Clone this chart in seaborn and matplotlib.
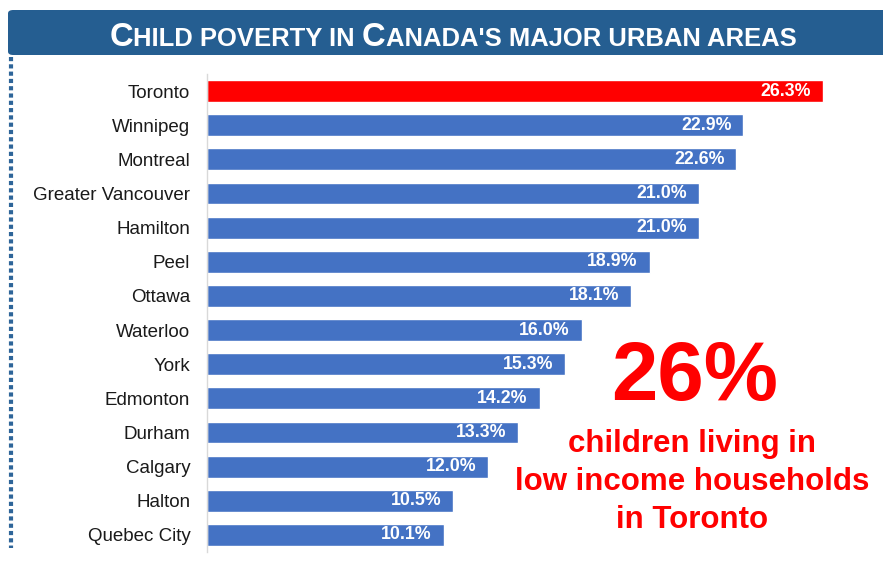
import matplotlib
matplotlib.use("Agg")
import matplotlib.pyplot as plt
import seaborn as sns
import pandas as pd
from matplotlib.patches import FancyBboxPatch
from matplotlib.lines import Line2D

cities = ["Toronto", "Winnipeg", "Montreal", "Greater Vancouver", "Hamilton", "Peel",
          "Ottawa", "Waterloo", "York", "Edmonton", "Durham", "Calgary", "Halton",
          "Quebec City"]
values = [26.3, 22.9, 22.6, 21.0, 21.0, 18.9, 18.1, 16.0, 15.3, 14.2, 13.3, 12.0, 10.5, 10.1]
highlight = "Toronto"

sns.set_theme(style="white")
plt.rcParams["font.family"] = ["Liberation Sans", "DejaVu Sans"]

BLUE = "#4472C4"
RED = "#FF0000"
palette = {c: (RED if c == highlight else BLUE) for c in cities}
df = pd.DataFrame({"city": cities, "value": values})

W, H = 883, 565
fig = plt.figure(figsize=(W / 100, H / 100), dpi=100)
ax = fig.add_axes([207 / W, 1 - 552 / H, (W - 207) / W, (552 - 74) / H])

sns.barplot(data=df, x="value", y="city", hue="city", palette=palette,
            legend=False, width=0.64, ax=ax, saturation=1)
ax.set_xlim(0, (W - 207) / 23.42)
ax.set_ylim(13.5, -0.5)
ax.set_xlabel("")
ax.set_ylabel("")
ax.set_xticks([])
for s in ["top", "right", "bottom"]:
    ax.spines[s].set_visible(False)
ax.spines["left"].set_color("#D9D9D9")
ax.spines["left"].set_linewidth(1)
ax.tick_params(axis="y", length=0, pad=12, labelsize=13.5, labelcolor="#1a1a1a")

for i, v in enumerate(values):
    ax.annotate(f"{v:.1f}%", xy=(v, i), xytext=(-8.5, 0), textcoords="offset points",
                ha="right", va="center", color="white", fontsize=12.8, fontweight="bold")

# Title banner
banner = FancyBboxPatch((8 / W, 1 - 55 / H), (W + 20 - 8) / W, 45 / H,
                        boxstyle="round,pad=0,rounding_size=0.006",
                        transform=fig.transFigure, facecolor="#255E91",
                        edgecolor="none", clip_on=False)
fig.patches.append(banner)

# Dotted line on the left
fig.add_artist(Line2D([10.5 / W, 10.5 / W], [1 - 57 / H, 1 - 548 / H],
                      transform=fig.transFigure, color="#2E6599", linewidth=3,
                      linestyle=(0, (1, 0.75)), solid_capstyle="butt",
                      dash_capstyle="butt"))

# Title in small caps
tfam = "Liberation Sans"
pieces = [("C", 23), ("HILD POVERTY IN ", 18), ("C", 23), ("ANADA'S MAJOR URBAN AREAS", 18)]
renderer = fig.canvas.get_renderer()
target_w = 685.0
scale = 1.0
for _ in range(3):
    tmp = []
    total = 0.0
    for txt, sz in pieces:
        t = fig.text(0, 0, txt, fontsize=sz * scale, family=tfam, fontweight="bold")
        bb = t.get_window_extent(renderer)
        total += bb.width
        tmp.append(t)
    for t in tmp:
        t.remove()
    if abs(total - target_w) < 3:
        break
    scale *= target_w / total
x = 452 - target_w / 2
base_y = 1 - 45.5 / H
for txt, sz in pieces:
    t = fig.text(x / W, base_y, txt, fontsize=sz * scale, family=tfam,
                 fontweight="bold", color="white", va="baseline", ha="left")
    bb = t.get_window_extent(renderer)
    x += bb.width

# Annotation
fig.text(695 / W, 1 - 400 / H, "26%", color=RED, fontsize=60, fontweight="bold",
         ha="center", va="baseline")
for txt, yb in [("children living in", 452), ("low income households", 490),
                ("in Toronto", 528)]:
    fig.text(692 / W, 1 - yb / H, txt, color=RED, fontsize=22.5, fontweight="bold",
             ha="center", va="baseline")

fig.savefig("out.png", dpi=100)
